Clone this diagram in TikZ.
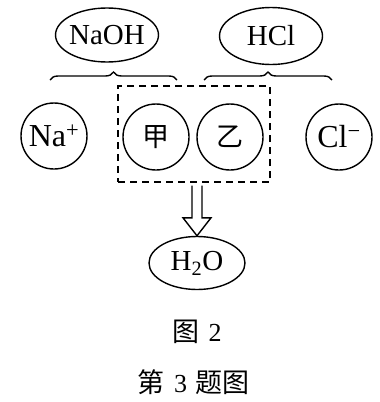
\documentclass[tikz,border=0pt]{standalone}
\usepackage{fontspec}
\setmainfont{Liberation Serif}
\newfontfamily\cjk{Noto Sans CJK SC}
\usetikzlibrary{calc,decorations.pathreplacing,shapes.geometric}
\tikzset{
  lw/.style={line width=1.4pt},
  ell/.style={lw, draw, ellipse, inner xsep=-14pt, inner ysep=-4pt, font=\fontsize{29}{30}\selectfont},
  ion/.style={lw, draw, circle, minimum size=66pt, inner sep=0pt, font=\fontsize{32}{32}\selectfont},
  cjkion/.style={ion, font=\cjk\fontsize{27}{28}\selectfont},
  bracestyle/.style={lw, decorate, decoration={brace, amplitude=8pt}},
  dashbox/.style={lw, draw, dash pattern=on 7pt off 5pt, inner sep=0pt},
  captext/.style={font=\fontsize{26}{26}\selectfont},
}
\newcommand{\cjkcap}[1]{{\cjk\fontsize{27}{28}\selectfont #1}}
\begin{document}
\begin{tikzpicture}[x=1pt,y=-1pt]
\useasboundingbox (0,0) rectangle (380,402);
\node[ell, minimum width=103pt, minimum height=54pt] (naoh) at (107,35) {NaOH};
\node[ell, minimum width=103pt, minimum height=57pt] (hcl) at (271,36) {HCl};
\node[ion] (na) at (54,136) {Na\textsuperscript{+}};
\node[cjkion] (jia) at (156,137) {甲};
\node[cjkion] (yi) at (230,137) {乙};
\node[ion] (cl) at (339,137) {Cl\textsuperscript{−}};
\node[dashbox, minimum width=152pt, minimum height=96pt] (box) at (194,134) {};
\node[ell, minimum width=96pt, minimum height=53pt] (h2o) at (197,263) {H\textsubscript{2}O};
\coordinate (bl1) at (50,80);
\coordinate (bl2) at (177,80);
\coordinate (br1) at (204,80);
\coordinate (br2) at (332,80);
\draw[bracestyle] (bl1) -- (bl2);
\draw[bracestyle] (br1) -- (br2);
\coordinate (atop) at ($(h2o.north |- box.south)+(0,3)$);
\draw[lw, line join=miter] ($(atop)+(-5,0)$) -- ($(h2o.north)+(-5,-18)$) -- ($(h2o.north)+(-14,-18)$) -- (h2o.north) -- ($(h2o.north)+(14,-18)$) -- ($(h2o.north)+(5,-18)$) -- ($(atop)+(5,0)$);
\node[captext] (cap1) at (197,332) {\cjkcap{图}\hspace{9pt}2};
\node[captext] (cap2) at (193,382) {\cjkcap{第}\hspace{10pt}3\hspace{8pt}\cjkcap{题图}};
\end{tikzpicture}
\end{document}
